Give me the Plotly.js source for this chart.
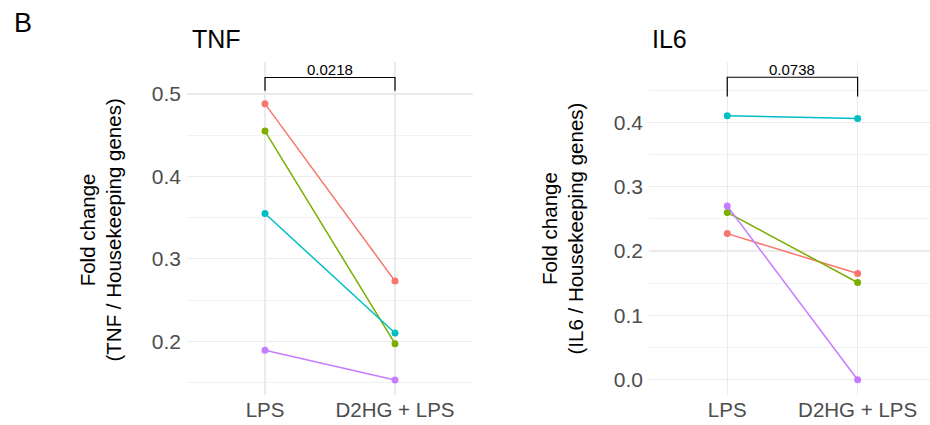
<!DOCTYPE html>
<html>
<head>
<meta charset="utf-8">
<script src="https://cdn.plot.ly/plotly-3.0.1.min.js"></script>
<style>html,body{margin:0;padding:0;background:#fff;}#chart{width:930px;height:425px;}</style>
</head>
<body>
<div id="chart"></div>
<script>
// ---- data ----
const categories = ['LPS', 'D2HG + LPS'];
const sampleColors = ['#F8766D', '#7CAE00', '#00BFC4', '#C77CFF'];

const tnfS1 = [0.488, 0.273];
const tnfS2 = [0.455, 0.197];
const tnfS3 = [0.355, 0.210];
const tnfS4 = [0.189, 0.153];

const il6S1 = [0.227, 0.165];
const il6S2 = [0.260, 0.151];
const il6S3 = [0.410, 0.406];
const il6S4 = [0.270, 0.000];

const tnfTickVals = [0.2, 0.3, 0.4, 0.5];
const tnfTickText = ['0.2', '0.3', '0.4', '0.5'];
const il6TickVals = [0.0, 0.1, 0.2, 0.3, 0.4];
const il6TickText = ['0.0', '0.1', '0.2', '0.3', '0.4'];

const pValues = ['0.0218', '0.0738'];
const panelTitles = ['TNF', 'IL6'];
const yTitles = ['Fold change<br>(TNF / Housekeeping genes)', 'Fold change<br>(IL6 / Housekeeping genes)'];

// ---- build ----
const FONT = 'Liberation Sans, Arial, Helvetica, sans-serif';
const traces = [];
function addPanel(series, xa, ya) {
  series.forEach((s, i) => {
    traces.push({
      type: 'scatter', mode: 'lines+markers',
      x: categories, y: s, xaxis: xa, yaxis: ya,
      line: {color: sampleColors[i], width: 1.5},
      marker: {color: sampleColors[i], size: 7},
      showlegend: false, hoverinfo: 'skip', cliponaxis: false
    });
  });
}
addPanel([tnfS1, tnfS2, tnfS3, tnfS4], 'x', 'y');
addPanel([il6S1, il6S2, il6S3, il6S4], 'x2', 'y2');

// significance brackets
const brackets = [
  {xa: 'x', ya: 'y', top: 0.520, tip: 0.504, label: 0.530, p: pValues[0]},
  {xa: 'x2', ya: 'y2', top: 0.470, tip: 0.440, label: 0.4824, p: pValues[1]}
];
const annotations = [];
brackets.forEach(b => {
  traces.push({
    type: 'scatter', mode: 'lines',
    x: [categories[0], categories[0], categories[1], categories[1]],
    y: [b.tip, b.top, b.top, b.tip],
    xaxis: b.xa, yaxis: b.ya,
    line: {color: '#000', width: 1.2},
    showlegend: false, hoverinfo: 'skip', cliponaxis: false
  });
  annotations.push({
    xref: b.xa, yref: b.ya, x: 0.5, y: b.label, text: b.p, showarrow: false,
    xanchor: 'center', yanchor: 'middle', font: {family: FONT, size: 15, color: '#000'}
  });
});

// panel titles, tag, y titles
annotations.push({xref: 'paper', yref: 'paper', x: 12/930, y: 1 - 23/425, text: 'B', showarrow: false,
  xanchor: 'left', yanchor: 'middle', font: {family: FONT, size: 27, color: '#000'}});
annotations.push({xref: 'paper', yref: 'paper', x: 190/930, y: 1 - 39/425, text: panelTitles[0], showarrow: false,
  xanchor: 'left', yanchor: 'middle', font: {family: FONT, size: 25, color: '#000'}});
annotations.push({xref: 'paper', yref: 'paper', x: 650/930, y: 1 - 39/425, text: panelTitles[1], showarrow: false,
  xanchor: 'left', yanchor: 'middle', font: {family: FONT, size: 25, color: '#000'}});
annotations.push({xref: 'paper', yref: 'paper', x: 100.5/930, y: 1 - 230/425, text: yTitles[0], showarrow: false,
  textangle: -90, xanchor: 'center', yanchor: 'middle', font: {family: FONT, size: 20.5, color: '#000'}});
annotations.push({xref: 'paper', yref: 'paper', x: 562.5/930, y: 1 - 229/425, text: yTitles[1], showarrow: false,
  textangle: -90, xanchor: 'center', yanchor: 'middle', font: {family: FONT, size: 20.5, color: '#000'}});

const yDomain = [1 - 395/425, 1 - 62/425];
const gridMajor = '#EBEBEB';
const gridMinor = '#F2F2F2';
function xAxis(domain, range) {
  return {
    domain: domain, range: range, type: 'category', showgrid: true, gridcolor: gridMajor, gridwidth: 1.2,
    zeroline: false, showline: false, ticks: '', fixedrange: true,
    tickfont: {family: FONT, size: 20.5, color: '#4D4D4D'}
  };
}
function yAxis(range, vals, text) {
  return {
    domain: yDomain, range: range, tickmode: 'array', tickvals: vals, ticktext: text,
    showgrid: true, gridcolor: gridMajor, gridwidth: 1.2, zeroline: false, showline: false, ticks: '',
    ticklabelstandoff: 5,
    minor: {dtick: 0.05, tick0: 0, showgrid: true, gridcolor: gridMinor, gridwidth: 1, ticks: ''},
    tickfont: {family: FONT, size: 21, color: '#4D4D4D'}, fixedrange: true
  };
}

const layout = {
  width: 930, height: 425,
  margin: {l: 0, r: 0, t: 0, b: 0},
  paper_bgcolor: '#fff', plot_bgcolor: '#fff',
  showlegend: false,
  xaxis: xAxis([187/930, 473/930], [-0.6, 1.6]),
  yaxis: yAxis([0.1348, 0.5388], tnfTickVals, tnfTickText),
  xaxis2: Object.assign(xAxis([649/930, 1], [-0.6, 1.555]), {anchor: 'y2'}),
  yaxis2: Object.assign(yAxis([-0.0238, 0.4937], il6TickVals, il6TickText), {anchor: 'x2'}),
  annotations: annotations
};
layout.xaxis.anchor = 'y';
layout.yaxis.anchor = 'x';

Plotly.newPlot('chart', traces, layout, {staticPlot: true, displayModeBar: false});
</script>
</body>
</html>
